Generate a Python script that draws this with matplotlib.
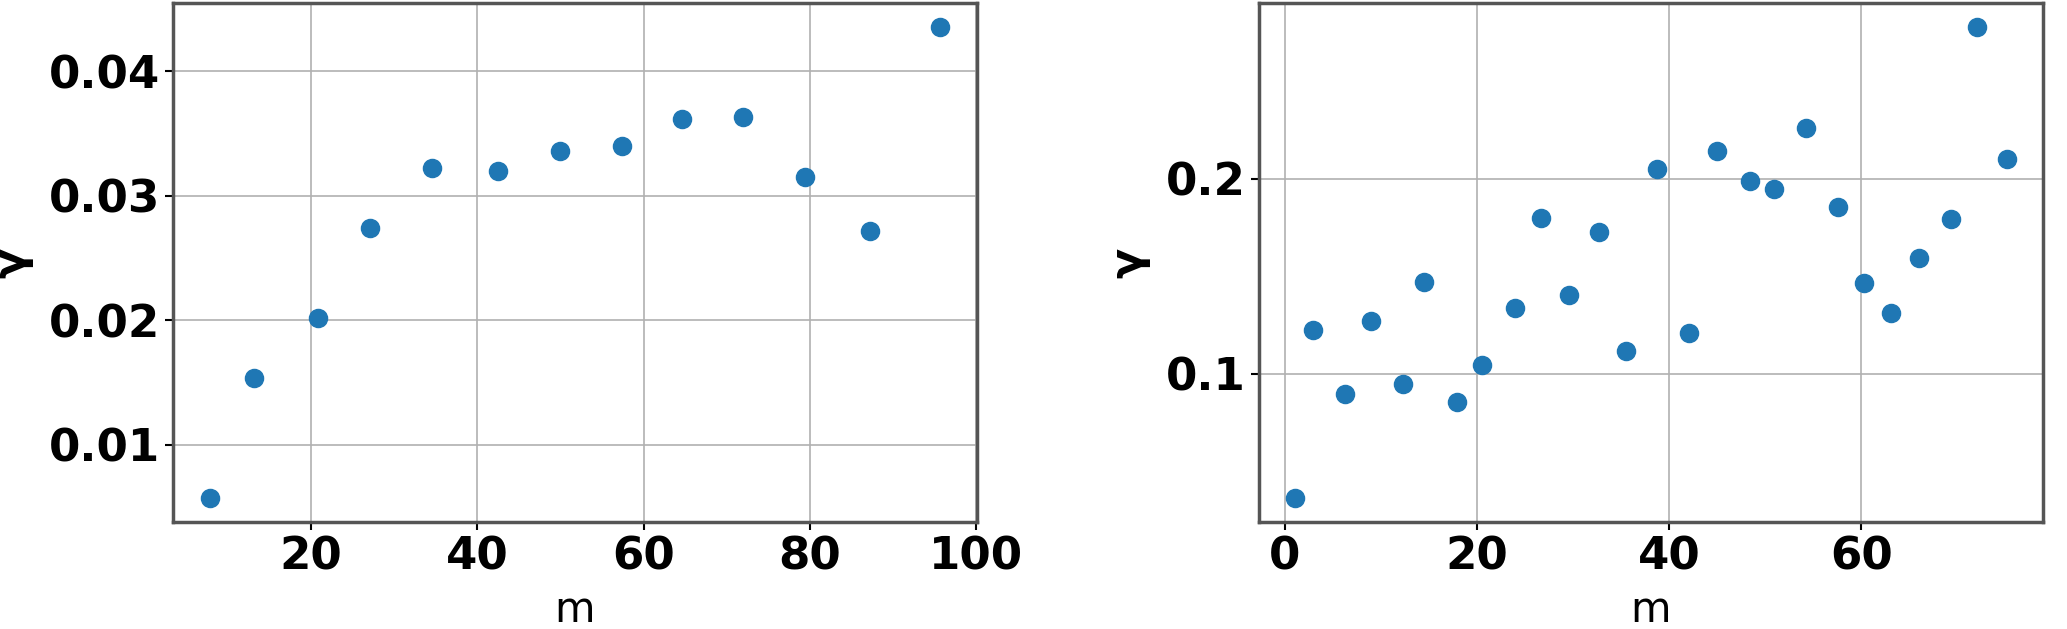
import matplotlib.pyplot as plt
import numpy as np

# left panel
m_left = [7.8, 13.2, 20.8, 27.1, 34.5, 42.5, 49.9, 57.4, 64.6, 72.0, 79.4, 87.2, 95.7]
gamma_left = [0.00569, 0.0154, 0.0202, 0.0274, 0.0322, 0.0320, 0.0336, 0.0340,
              0.0362, 0.0363, 0.0315, 0.0272, 0.0436]

# right panel
m_right = [1.0, 2.9, 6.2, 8.9, 12.3, 14.5, 17.9, 20.5, 23.9, 26.7, 29.6, 32.7, 35.5,
           38.7, 42.1, 45.0, 48.4, 50.9, 54.2, 57.6, 60.3, 63.1, 66.0, 69.3, 72.0, 75.2]
gamma_right = [0.0361, 0.1225, 0.0898, 0.1270, 0.0947, 0.1471, 0.0857, 0.1043, 0.1336,
               0.1799, 0.1404, 0.1725, 0.1115, 0.2047, 0.1211, 0.2143, 0.1986, 0.1945,
               0.2260, 0.1855, 0.1467, 0.1311, 0.1592, 0.1791, 0.2779, 0.2100]

fig = plt.figure(figsize=(20.67, 6.29), dpi=100)
ax1 = fig.add_axes([173/2067, 1 - 522/629, (977 - 173)/2067, (522 - 3)/629])
ax2 = fig.add_axes([1259/2067, 1 - 522/629, (2043 - 1259)/2067, (522 - 3)/629])

for ax, x, y in [(ax1, m_left, gamma_left), (ax2, m_right, gamma_right)]:
    ax.scatter(x, y, s=170, color='#1f77b4', zorder=3)
    ax.grid(True, color='#b0b0b0', linewidth=1.2)
    ax.set_axisbelow(True)
    for sp in ax.spines.values():
        sp.set_color('#555555')
        sp.set_linewidth(2.5)
    ax.tick_params(labelsize=32.5, length=6, width=1.5)
    ax.set_xlabel('m', fontsize=30, labelpad=8)
    ax.set_ylabel('γ', fontsize=32, fontweight='bold', labelpad=11)

ax1.set_xticks([20, 40, 60, 80, 100])
ax1.set_yticks([0.01, 0.02, 0.03, 0.04])
ax2.set_xticks([0, 20, 40, 60])
ax2.set_yticks([0.1, 0.2])
for ax in (ax1, ax2):
    for lab in ax.get_xticklabels() + ax.get_yticklabels():
        lab.set_fontweight('bold')

fig.savefig('out.png', dpi=100)
